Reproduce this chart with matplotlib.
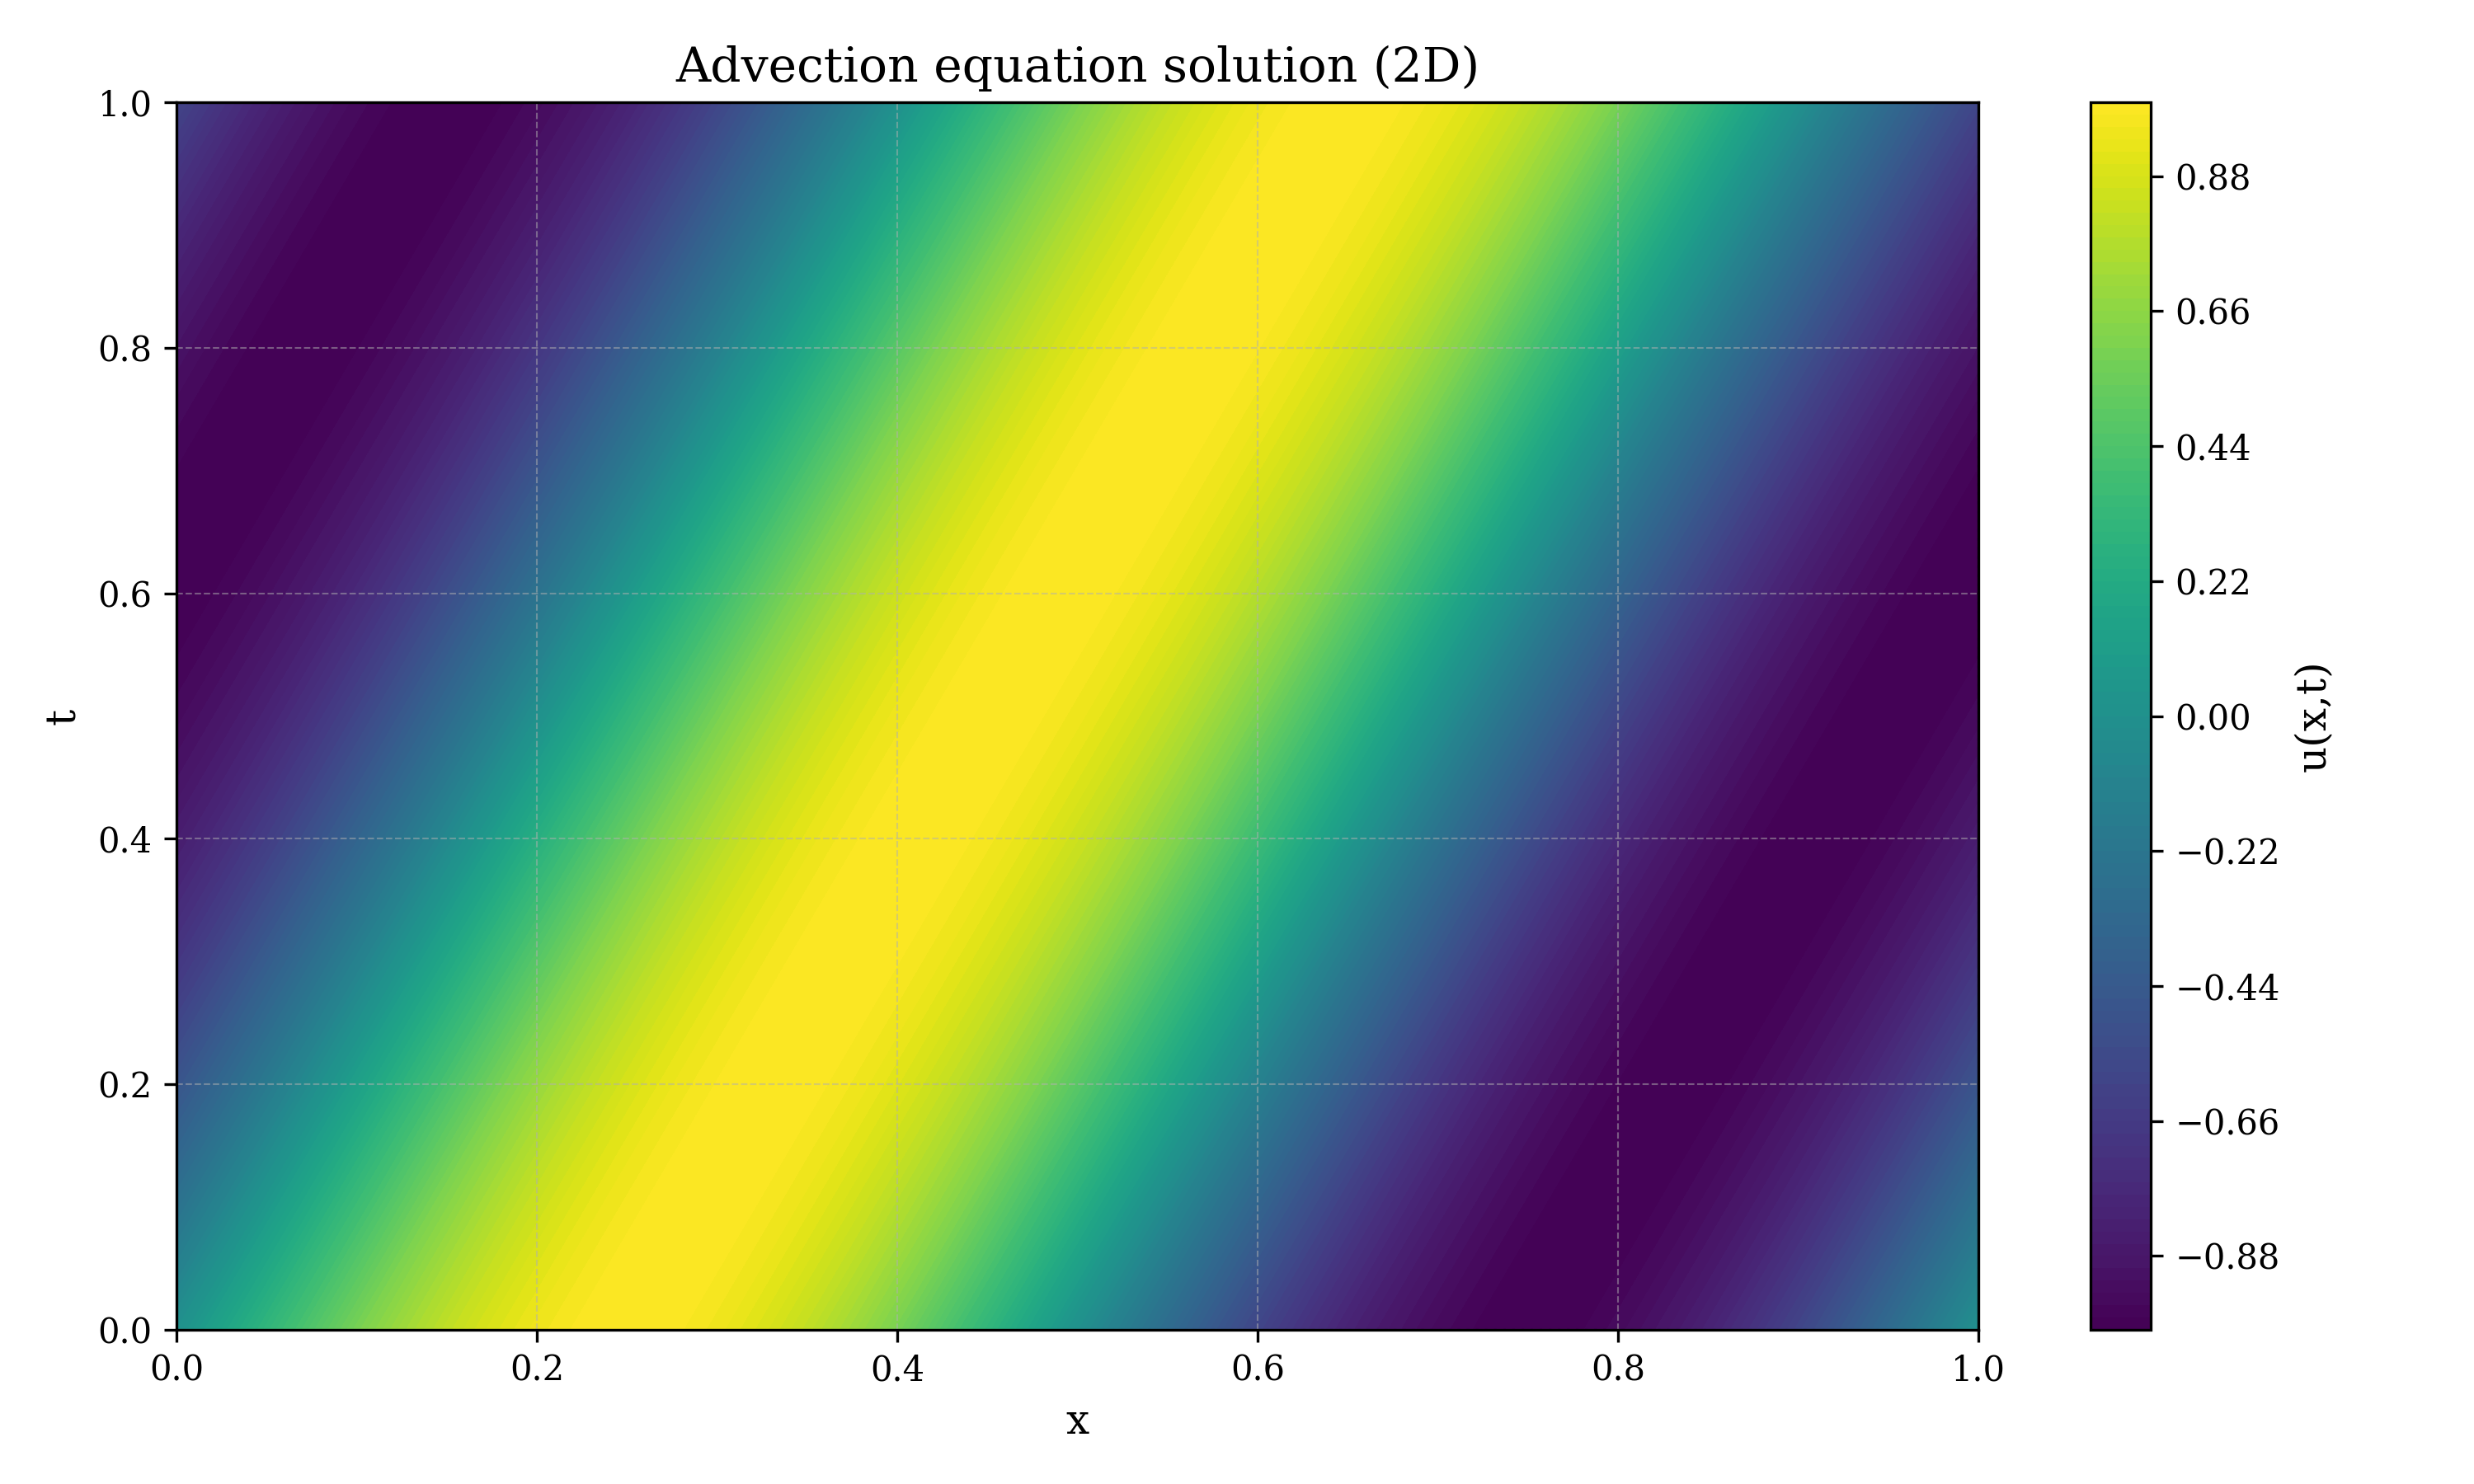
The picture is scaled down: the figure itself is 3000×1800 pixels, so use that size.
import matplotlib.pyplot as plt
import numpy as np

plt.rcParams['font.family'] = 'serif'

# sample points (x every 0.025, t every 0.0625)
x_nodes = [0.0, 0.025, 0.05, 0.075, 0.1, 0.125, 0.15, 0.175, 0.2, 0.225,
           0.25, 0.275, 0.3, 0.325, 0.35, 0.375, 0.4, 0.425, 0.45, 0.475,
           0.5, 0.525, 0.55, 0.575, 0.6, 0.625, 0.65, 0.675, 0.7, 0.725,
           0.75, 0.775, 0.8, 0.825, 0.85, 0.875, 0.9, 0.925, 0.95, 0.975, 1.0]
t_nodes = [0.0, 0.0625, 0.125, 0.1875, 0.25, 0.3125, 0.375, 0.4375, 0.5,
           0.5625, 0.625, 0.6875, 0.75, 0.8125, 0.875, 0.9375, 1.0]

# u(x,t) along each time row
u_t00 = [0, .16, .31, .45, .59, .71, .81, .89, .95, .99, 1, .99, .95, .89, .81, .71, .59, .45, .31, .16, 0, -.16, -.31, -.45, -.59, -.71, -.81, -.89, -.95, -.99, -1, -.99, -.95, -.89, -.81, -.71, -.59, -.45, -.31, -.16, 0]
u_t01 = [-.16, 0, .16, .31, .45, .59, .71, .81, .89, .95, .99, 1, .99, .95, .89, .81, .71, .59, .45, .31, .16, 0, -.16, -.31, -.45, -.59, -.71, -.81, -.89, -.95, -.99, -1, -.99, -.95, -.89, -.81, -.71, -.59, -.45, -.31, -.16]
u_t02 = [-.31, -.16, 0, .16, .31, .45, .59, .71, .81, .89, .95, .99, 1, .99, .95, .89, .81, .71, .59, .45, .31, .16, 0, -.16, -.31, -.45, -.59, -.71, -.81, -.89, -.95, -.99, -1, -.99, -.95, -.89, -.81, -.71, -.59, -.45, -.31]
u_t03 = [-.45, -.31, -.16, 0, .16, .31, .45, .59, .71, .81, .89, .95, .99, 1, .99, .95, .89, .81, .71, .59, .45, .31, .16, 0, -.16, -.31, -.45, -.59, -.71, -.81, -.89, -.95, -.99, -1, -.99, -.95, -.89, -.81, -.71, -.59, -.45]
u_t04 = [-.59, -.45, -.31, -.16, 0, .16, .31, .45, .59, .71, .81, .89, .95, .99, 1, .99, .95, .89, .81, .71, .59, .45, .31, .16, 0, -.16, -.31, -.45, -.59, -.71, -.81, -.89, -.95, -.99, -1, -.99, -.95, -.89, -.81, -.71, -.59]
u_t05 = [-.71, -.59, -.45, -.31, -.16, 0, .16, .31, .45, .59, .71, .81, .89, .95, .99, 1, .99, .95, .89, .81, .71, .59, .45, .31, .16, 0, -.16, -.31, -.45, -.59, -.71, -.81, -.89, -.95, -.99, -1, -.99, -.95, -.89, -.81, -.71]
u_t06 = [-.81, -.71, -.59, -.45, -.31, -.16, 0, .16, .31, .45, .59, .71, .81, .89, .95, .99, 1, .99, .95, .89, .81, .71, .59, .45, .31, .16, 0, -.16, -.31, -.45, -.59, -.71, -.81, -.89, -.95, -.99, -1, -.99, -.95, -.89, -.81]
u_t07 = [-.89, -.81, -.71, -.59, -.45, -.31, -.16, 0, .16, .31, .45, .59, .71, .81, .89, .95, .99, 1, .99, .95, .89, .81, .71, .59, .45, .31, .16, 0, -.16, -.31, -.45, -.59, -.71, -.81, -.89, -.95, -.99, -1, -.99, -.95, -.89]
u_t08 = [-.95, -.89, -.81, -.71, -.59, -.45, -.31, -.16, 0, .16, .31, .45, .59, .71, .81, .89, .95, .99, 1, .99, .95, .89, .81, .71, .59, .45, .31, .16, 0, -.16, -.31, -.45, -.59, -.71, -.81, -.89, -.95, -.99, -1, -.99, -.95]
u_t09 = [-.99, -.95, -.89, -.81, -.71, -.59, -.45, -.31, -.16, 0, .16, .31, .45, .59, .71, .81, .89, .95, .99, 1, .99, .95, .89, .81, .71, .59, .45, .31, .16, 0, -.16, -.31, -.45, -.59, -.71, -.81, -.89, -.95, -.99, -1, -.99]
u_t10 = [-1, -.99, -.95, -.89, -.81, -.71, -.59, -.45, -.31, -.16, 0, .16, .31, .45, .59, .71, .81, .89, .95, .99, 1, .99, .95, .89, .81, .71, .59, .45, .31, .16, 0, -.16, -.31, -.45, -.59, -.71, -.81, -.89, -.95, -.99, -1]
u_t11 = [-.99, -1, -.99, -.95, -.89, -.81, -.71, -.59, -.45, -.31, -.16, 0, .16, .31, .45, .59, .71, .81, .89, .95, .99, 1, .99, .95, .89, .81, .71, .59, .45, .31, .16, 0, -.16, -.31, -.45, -.59, -.71, -.81, -.89, -.95, -.99]
u_t12 = [-.95, -.99, -1, -.99, -.95, -.89, -.81, -.71, -.59, -.45, -.31, -.16, 0, .16, .31, .45, .59, .71, .81, .89, .95, .99, 1, .99, .95, .89, .81, .71, .59, .45, .31, .16, 0, -.16, -.31, -.45, -.59, -.71, -.81, -.89, -.95]
u_t13 = [-.89, -.95, -.99, -1, -.99, -.95, -.89, -.81, -.71, -.59, -.45, -.31, -.16, 0, .16, .31, .45, .59, .71, .81, .89, .95, .99, 1, .99, .95, .89, .81, .71, .59, .45, .31, .16, 0, -.16, -.31, -.45, -.59, -.71, -.81, -.89]
u_t14 = [-.81, -.89, -.95, -.99, -1, -.99, -.95, -.89, -.81, -.71, -.59, -.45, -.31, -.16, 0, .16, .31, .45, .59, .71, .81, .89, .95, .99, 1, .99, .95, .89, .81, .71, .59, .45, .31, .16, 0, -.16, -.31, -.45, -.59, -.71, -.81]
u_t15 = [-.71, -.81, -.89, -.95, -.99, -1, -.99, -.95, -.89, -.81, -.71, -.59, -.45, -.31, -.16, 0, .16, .31, .45, .59, .71, .81, .89, .95, .99, 1, .99, .95, .89, .81, .71, .59, .45, .31, .16, 0, -.16, -.31, -.45, -.59, -.71]
u_t16 = [-.59, -.71, -.81, -.89, -.95, -.99, -1, -.99, -.95, -.89, -.81, -.71, -.59, -.45, -.31, -.16, 0, .16, .31, .45, .59, .71, .81, .89, .95, .99, 1, .99, .95, .89, .81, .71, .59, .45, .31, .16, 0, -.16, -.31, -.45, -.59]

U = np.array([u_t00, u_t01, u_t02, u_t03, u_t04, u_t05, u_t06, u_t07, u_t08,
              u_t09, u_t10, u_t11, u_t12, u_t13, u_t14, u_t15, u_t16])

fig = plt.figure(figsize=(10, 6), dpi=300)
ax = fig.add_axes([0.0713, 0.104, 0.7284, 0.827])

cf = ax.contourf(x_nodes, t_nodes, U, levels=np.linspace(-1, 1, 101), cmap='viridis')

cax = fig.add_axes([0.845, 0.104, 0.0243, 0.827])
cb = fig.colorbar(cf, cax=cax)
cb.set_label('u(x,t)', fontsize=12)

ax.set_title('Advection equation solution (2D)', fontsize=14)
ax.set_xlabel('x', fontsize=12)
ax.set_ylabel('t', fontsize=12)
ax.grid(True, linestyle='--', linewidth=0.5, alpha=0.5)

fig.savefig('out.png')
